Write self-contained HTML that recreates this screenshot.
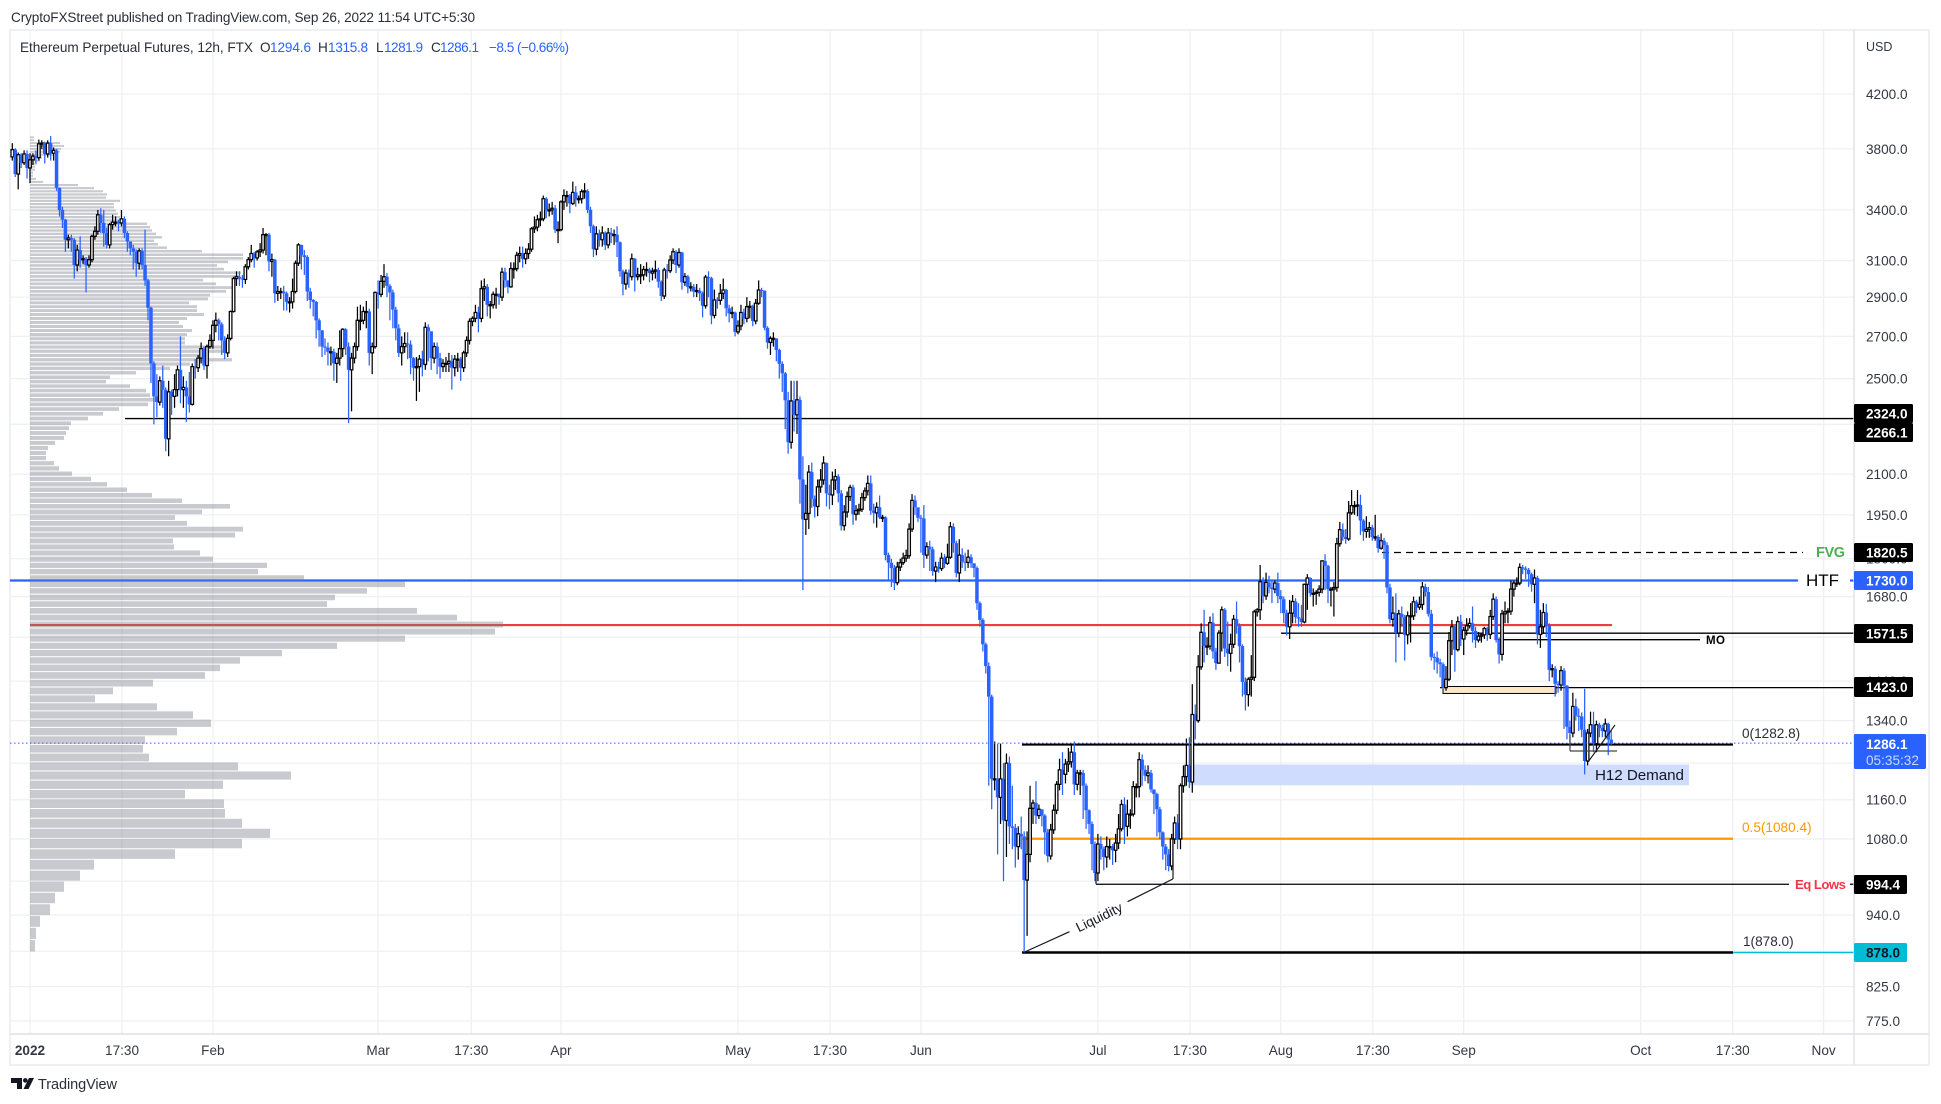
<!DOCTYPE html>
<html lang="en">
<head>
<meta charset="utf-8">
<title>Ethereum Perpetual Futures 12h chart</title>
<style>
html,body{margin:0;padding:0;background:#fff;width:1941px;height:1104px;overflow:hidden}
svg{display:block;font-family:"Liberation Sans",sans-serif;filter:blur(0.3px)}
text{font-size:13.6px}
</style>
</head>
<body>
<svg id="chart" width="1941" height="1104" viewBox="0 0 1941 1104" xmlns="http://www.w3.org/2000/svg">
  <rect x="0" y="0" width="1941" height="1104" fill="#ffffff"/>
  <text x="11" y="22" fill="#2a2e39" textLength="464">CryptoFXStreet published on TradingView.com, Sep 26, 2022 11:54 UTC+5:30</text>
  <rect x="10" y="30" width="1919" height="1035" fill="none" stroke="#eff0f5" stroke-width="2"/>
  <g id="grid"></g>
  <g id="levels"></g>
  <g id="profile"></g>
  <g id="candles"></g>
  <g id="notes"></g>
  <line x1="1854" y1="30" x2="1854" y2="1065" stroke="#e0e1e6" stroke-width="1.4"/>
  <line x1="10" y1="1034" x2="1929" y2="1034" stroke="#e0e1e6" stroke-width="1.4"/>
  <g id="yaxis"></g>
  <g id="xaxis"></g>
  <g id="tags"></g>
  <g>
    <text x="20" y="52" fill="#2a2e39" textLength="233">Ethereum Perpetual Futures, 12h, FTX</text>
    <text x="260" y="52" fill="#2a2e39">O</text>
    <text x="270" y="52" fill="#2962ff" textLength="41">1294.6</text>
    <text x="318" y="52" fill="#2a2e39">H</text>
    <text x="328" y="52" fill="#2962ff" textLength="40">1315.8</text>
    <text x="376" y="52" fill="#2a2e39">L</text>
    <text x="384" y="52" fill="#2962ff" textLength="39">1281.9</text>
    <text x="431" y="52" fill="#2a2e39">C</text>
    <text x="440" y="52" fill="#2962ff" textLength="39">1286.1</text>
    <text x="489" y="52" fill="#2962ff" textLength="80">−8.5 (−0.66%)</text>
  </g>
  <g>
    <path d="M11 1078H22V1089H17V1083H11Z" fill="#131722"/>
    <circle cx="25.3" cy="1080.4" r="2.3" fill="#131722"/>
    <path d="M29 1078H34L28.5 1089H23.5Z" fill="#131722"/>
    <text x="38" y="1089" fill="#2a2e39" textLength="79" style="font-size:14.5px">TradingView</text>
  </g>
</svg>
<script>
const firstOpen = 3745;
const closes = [
3795,3630,3760,3705,3765,3670,3725,3750,3740,3835,
3840,3765,3840,3770,3790,3540,3400,3340,3220,3230,
3220,3075,3160,3105,3110,3075,3105,3240,3270,3370,
3320,3260,3190,3310,3325,3325,3320,3345,3260,3210,
3170,3150,3085,3155,3075,2990,2845,2570,2420,2395,
2490,2450,2240,2440,2420,2450,2540,2450,2460,2420,
2385,2555,2550,2595,2640,2560,2650,2680,2755,2780,
2760,2680,2620,2690,2825,3000,3010,3000,2995,3065,
3105,3140,3115,3150,3160,3250,3250,3095,3105,2920,
2930,2930,2920,2875,2875,2930,3085,3190,3130,3120,
2930,2885,2875,2780,2730,2650,2645,2625,2625,2570,
2595,2640,2735,2650,2540,2595,2650,2780,2780,2825,
2825,2620,2650,2925,2915,2985,3010,2960,2925,2835,
2740,2620,2650,2665,2660,2595,2550,2555,2590,2565,
2745,2725,2595,2650,2595,2555,2570,2570,2580,2550,
2590,2590,2550,2620,2680,2775,2790,2820,2790,2945,
2955,2860,2860,2915,2915,2900,3035,2990,2955,3055,
3055,3130,3140,3110,3140,3165,3285,3295,3340,3345,
3470,3400,3400,3410,3280,3280,3450,3490,3490,3440,
3510,3470,3470,3515,3520,3400,3300,3165,3255,3220,
3260,3190,3260,3250,3250,3205,3040,2970,3030,3010,
3110,3010,3020,3020,3050,3050,3030,3040,3047,2983,
2906,3047,3043,3103,3150,3075,3146,2980,3011,2955,
2955,2930,2935,2920,2855,3008,3002,2805,2885,2883,
2920,2938,2842,2815,2820,2722,2752,2820,2790,2850,
2852,2777,2868,2938,2935,2742,2670,2690,2690,2634,
2568,2524,2403,2226,2400,2340,2405,2080,1934,1955,
2108,2008,1980,2052,2078,2143,2028,2022,2078,2091,
2028,1912,1960,2016,2050,1952,1965,1970,2012,2037,
2065,1965,1957,1977,1941,1941,1812,1787,1770,1723,
1773,1787,1802,1810,1900,2002,1977,1940,1937,1812,
1840,1831,1760,1773,1768,1802,1785,1805,1908,1852,
1754,1812,1790,1788,1805,1785,1770,1660,1610,1540,
1480,1400,1205,1205,1165,1205,1117,1240,1105,1102,
1065,1090,1085,1002,1050,1142,1153,1127,1140,1127,
1093,1047,1098,1138,1193,1225,1215,1238,1243,1265,
1193,1218,1218,1190,1138,1110,1070,1015,1070,1060,
1045,1065,1065,1058,1072,1100,1150,1105,1130,1130,
1188,1188,1248,1225,1212,1218,1182,1172,1140,1093,
1065,1050,1028,1080,1112,1080,1190,1210,1235,1198,
1355,1340,1478,1574,1535,1535,1602,1520,1488,1572,
1640,1528,1515,1540,1612,1592,1535,1438,1405,1445,
1450,1634,1640,1726,1682,1724,1708,1703,1722,1682,
1672,1630,1590,1630,1665,1618,1614,1604,1718,1738,
1690,1690,1693,1703,1793,1777,1703,1703,1708,1850,
1898,1873,1866,1957,1983,1983,1985,1930,1892,1899,
1905,1873,1873,1835,1860,1845,1708,1612,1630,1572,
1628,1618,1567,1622,1622,1664,1648,1656,1710,1694,
1628,1505,1503,1490,1485,1423,1445,1550,1590,1525,
1605,1555,1580,1593,1600,1578,1552,1563,1567,1585,
1568,1620,1672,1552,1512,1628,1634,1636,1703,1722,
1722,1772,1768,1764,1750,1718,1738,1568,1590,1632,
1595,1470,1473,1433,1430,1468,1428,1325,1310,1375,
1352,1350,1318,1245,1310,1330,1285,1330,1322,1315,
1332,1294.6,1286.1];
const highs = [
3840,3805,3775,3770,3790,3790,3770,3770,3790,3865,
3860,3850,3860,3890,3810,3800,3540,3420,3345,3250,
3250,3230,3190,3240,3130,3120,3130,3250,3300,3400,
3410,3400,3290,3320,3370,3360,3340,3400,3360,3270,
3210,3190,3165,3170,3170,3280,3000,2850,2580,2520,
2510,2560,2460,2490,2450,2520,2560,2700,2510,2490,
2530,2570,2590,2610,2670,2650,2660,2710,2780,2820,
2790,2770,2700,2710,2830,3010,3040,3040,3020,3080,
3120,3190,3150,3160,3200,3290,3260,3260,3140,3110,
2960,2950,2960,2930,2900,3000,3100,3200,3190,3160,
3130,2950,2890,2880,2790,2730,2690,2670,2650,2640,
2620,2730,2740,2740,2670,2620,2670,2850,2860,2850,
2880,2840,2670,2930,2990,3020,3080,3030,2970,2940,
2850,2760,2700,2720,2720,2680,2600,2600,2610,2630,
2770,2760,2720,2670,2670,2620,2590,2600,2620,2610,
2610,2620,2600,2630,2700,2790,2800,2860,2850,2990,
3000,2970,2880,2930,2950,2920,3060,3060,2990,3090,
3090,3150,3180,3180,3170,3200,3295,3360,3370,3390,
3490,3480,3440,3450,3430,3330,3460,3530,3520,3500,
3580,3550,3490,3530,3570,3530,3420,3310,3300,3280,
3300,3270,3290,3290,3280,3300,3210,3050,3050,3050,
3140,3115,3060,3080,3070,3090,3060,3060,3100,3060,
2990,3060,3080,3130,3170,3160,3170,3150,3030,3020,
2980,2970,2970,2950,2930,3020,3040,3010,2940,2900,
2970,3000,2945,2860,2850,2825,2780,2860,2840,2900,
2880,2860,2890,2990,2950,2935,2750,2700,2720,2690,
2640,2580,2530,2440,2490,2490,2490,2420,2170,2060,
2135,2145,2020,2080,2120,2170,2145,2060,2110,2120,
2100,2040,1985,2035,2060,2060,1985,1990,2030,2050,
2095,2095,1990,1995,2020,1950,1945,1820,1800,1780,
1790,1800,1820,1830,1920,2025,2020,1970,1950,1985,
1855,1860,1840,1790,1790,1820,1815,1850,1925,1920,
1860,1865,1835,1820,1830,1815,1785,1775,1665,1615,
1545,1490,1405,1290,1285,1285,1240,1262,1255,1190,
1110,1105,1125,1095,1095,1190,1160,1200,1150,1140,
1130,1100,1110,1150,1200,1250,1265,1250,1275,1285,
1290,1225,1225,1225,1195,1140,1115,1075,1090,1085,
1065,1085,1080,1070,1090,1130,1160,1165,1160,1140,
1200,1195,1265,1260,1235,1235,1225,1180,1175,1145,
1095,1070,1060,1090,1125,1130,1195,1235,1297,1300,
1432,1380,1510,1600,1640,1560,1620,1630,1530,1580,
1650,1645,1605,1570,1625,1665,1600,1540,1450,1450,
1510,1640,1645,1780,1740,1755,1745,1730,1730,1755,
1700,1680,1640,1670,1685,1675,1660,1655,1720,1750,
1740,1705,1700,1715,1795,1815,1780,1710,1725,1870,
1925,1920,1900,2000,2040,2000,2040,2023,1935,1945,
1925,1915,1950,1880,1885,1870,1855,1720,1680,1690,
1640,1650,1625,1635,1660,1680,1670,1680,1725,1720,
1710,1640,1515,1520,1500,1490,1480,1575,1610,1595,
1620,1625,1590,1615,1615,1650,1590,1575,1570,1590,
1590,1640,1690,1680,1560,1640,1665,1645,1730,1730,
1740,1785,1780,1775,1770,1755,1765,1745,1640,1660,
1658,1600,1485,1480,1440,1480,1475,1430,1340,1410,
1395,1370,1360,1420,1320,1362,1362,1340,1335,1330,
1345,1335,1315.8];
const lows = [
3720,3610,3530,3670,3690,3600,3570,3690,3700,3720,
3800,3700,3740,3720,3720,3520,3360,3290,3150,3170,
3150,3000,3040,3060,3080,2925,3060,3090,3220,3250,
3260,3180,3170,3170,3280,3300,3270,3300,3230,3150,
3130,3050,3010,3050,3050,2960,2780,2480,2300,2330,
2380,2370,2190,2170,2340,2370,2420,2390,2370,2310,
2350,2380,2500,2530,2570,2540,2500,2640,2640,2720,
2680,2610,2590,2600,2680,2820,2960,2960,2950,2970,
3050,3090,3060,3100,3120,3140,3130,3040,3010,2870,
2880,2890,2830,2830,2820,2840,2920,3070,3050,3020,
2880,2840,2800,2690,2650,2600,2610,2560,2560,2490,
2480,2560,2600,2610,2305,2355,2570,2630,2730,2760,
2740,2560,2520,2640,2840,2900,2950,2900,2780,2740,
2680,2600,2560,2620,2590,2520,2490,2400,2440,2510,
2540,2580,2540,2570,2520,2500,2530,2530,2530,2450,
2510,2530,2490,2530,2600,2660,2750,2770,2720,2770,
2880,2800,2790,2840,2840,2860,2880,2950,2920,2950,
3000,3040,3090,3060,3080,3110,3150,3260,3270,3300,
3330,3350,3360,3370,3260,3200,3270,3400,3420,3380,
3430,3420,3440,3440,3470,3380,3260,3120,3130,3180,
3180,3160,3170,3200,3190,3120,3010,2910,2940,2950,
2990,2930,2990,2970,2990,3010,2980,2990,3000,2950,
2880,2890,3000,3030,3080,3030,3060,2940,2960,2920,
2930,2900,2900,2880,2795,2840,2900,2760,2790,2840,
2860,2890,2800,2770,2790,2700,2710,2730,2760,2770,
2790,2750,2760,2860,2900,2730,2640,2610,2650,2580,
2500,2440,2280,2180,2200,2270,2260,1990,1700,1880,
1900,1975,1940,1945,2030,2060,1980,1970,1985,2040,
1995,1895,1895,1940,2000,1915,1930,1950,1960,2000,
2020,1950,1920,1905,1935,1925,1795,1730,1710,1700,
1715,1760,1780,1790,1800,1890,1950,1925,1820,1770,
1800,1760,1745,1725,1755,1760,1770,1780,1800,1820,
1740,1725,1770,1760,1770,1770,1740,1640,1590,1520,
1460,1190,1140,1180,1050,1110,1000,1045,1070,1060,
1025,1040,1060,878,905,1035,1110,1110,1120,1105,
1050,1035,1040,1090,1130,1180,1170,1195,1220,1230,
1170,1180,1170,1120,1100,1090,1020,1000,1000,1040,
1020,1025,1040,1030,1035,1060,1095,1070,1085,1100,
1125,1165,1165,1190,1200,1195,1175,1130,1085,1080,
1040,1020,1018,1020,1070,1060,1060,1175,1190,1185,
1175,1295,1335,1470,1490,1510,1525,1500,1470,1525,
1520,1505,1480,1465,1530,1570,1490,1400,1365,1375,
1400,1440,1620,1610,1660,1670,1690,1660,1690,1660,
1630,1600,1565,1555,1600,1600,1590,1590,1600,1640,
1680,1650,1655,1680,1690,1700,1660,1650,1620,1695,
1840,1860,1850,1860,1950,1950,1945,1880,1860,1870,
1870,1860,1860,1820,1830,1800,1690,1600,1590,1490,
1560,1590,1495,1540,1545,1610,1630,1640,1640,1680,
1620,1495,1470,1460,1450,1420,1415,1440,1510,1465,
1520,1535,1510,1565,1585,1545,1530,1545,1545,1555,
1550,1555,1610,1545,1487,1495,1600,1600,1625,1680,
1710,1715,1750,1735,1710,1695,1660,1540,1530,1570,
1560,1440,1450,1400,1410,1415,1320,1295,1290,1300,
1340,1315,1300,1215,1235,1300,1265,1265,1300,1300,
1300,1258,1281.9];

const profileVolumes = [5,6,10,20,25,34,50,64,145,212,240,212,195,194,155,193,261,208,119,113,115,147,181,163,127,65,83,123,175,190,210,252,307,375,465,473,427,387,297,305,337,375,274,228,237,183,170,144,143,205,213,157,145,172,200,152,122,97,77,61,42,29,24,16,16,18,25,34,36,39,41,58,73,89,118,130,120,116,100,76,80,106,140,160,202,178,194,192,155,155,157,162,153,149,157,174,167,167,159,178,180,196,205,186,173,209,211,194,187,198,213,213,172,137,128,124,132,126,122,120,117,95,90,88,86,84,84,90,76,77,73,64,48,13,6,3,3,5,5,7,10,12,24,30,31,34,30,4,4];
const profileBottomPrice = 878;
const profileRowPrice = 20.2;

const priceTicks = [4200,3800,3400,3100,2900,2700,2500,2300,2100,1950,1800,1680,1560,1440,1340,1240,1160,1080,1000,940,880,825,775];
const timeLabels = ["2022","17:30","Feb","Mar","17:30","Apr","May","17:30","Jun","Jul","17:30","Aug","17:30","Sep","Oct","17:30","Nov"];
const timeDays = [0,15.6,31,59,74.8,90,120,135.6,151,181,196.6,212,227.6,243,273,288.6,304];

const levelHTF = 1730, levelPOC = 1595, levelMO = 1571.5, levelMO2 = 1553, levelFVG = 1820.5;
const level2324 = 2324, level2266 = 2266.1, level1423 = 1423, levelEqLows = 994.4;
const fibValues = [1282.8, 1080.4, 878.0];
const demandTop = 1237, demandBottom = 1191, rectTop = 1426, rectBottom = 1408;

const NS = 'http://www.w3.org/2000/svg';
function yOf(p){ return 94 + 548.5 * Math.log(4200 / p); }
function xDay(d){ return 30 + 5.9 * d; }
function xIdx(i){ return xDay(i / 2 - 3); }
function vpX(v){ return 30 + v; }
function make(tag, parent, geom, text){
  const el = document.createElementNS(NS, tag);
  for (const k in geom) el.setAttribute(k, geom[k]);
  if (text !== undefined) el.textContent = text;
  parent.appendChild(el);
  return el;
}
function hLine(parent, x1, x2, price, color, width, dash){
  const y = yOf(price);
  const geom = {x1:x1, y1:y, x2:x2, y2:y, stroke:color};
  geom['stroke-width'] = width;
  if (dash) geom['stroke-dasharray'] = dash;
  return make('line', parent, geom);
}
function segment(parent, x1, y1, x2, y2, color, width){
  const geom = {x1:x1, y1:y1, x2:x2, y2:y2, stroke:color};
  geom['stroke-width'] = width;
  return make('line', parent, geom);
}

/* gridlines */
const grid = document.getElementById('grid');
priceTicks.forEach(function(p){
  const el = hLine(grid, 10, 1854, p, '#eff0f3', 1.3);
  
  
});
timeDays.forEach(function(d){
  const el = segment(grid, xDay(d), 30, xDay(d), 1034, '#eff0f3', 1.3);
  
  
});

/* levels beneath the profile and candles */
const lv = document.getElementById('levels');
let n;
n = hLine(lv, 10, 1798, levelHTF, '#2962ff', 2.2);


n = hLine(lv, 1850, 1854, levelHTF, '#2962ff', 2.2);


n = hLine(lv, 30, 1612, levelPOC, '#f23c3c', 2.2);


n = hLine(lv, 125, 1854, level2324, '#000000', 1.4);


n = hLine(lv, 1281, 1854, levelMO, '#000000', 1.3);


n = hLine(lv, 1498, 1700, levelMO2, '#000000', 1.3);


n = hLine(lv, 1382, 1803, levelFVG, '#000000', 1.2, '7 5');


n = hLine(lv, 1440, 1854, level1423, '#000000', 1.3);


n = hLine(lv, 1096, 1789, levelEqLows, '#000000', 1.3);


n = hLine(lv, 1850, 1854, levelEqLows, '#000000', 1.3);


n = make('rect', lv, {x:1190, y:yOf(demandTop), width:499, height:yOf(demandBottom)-yOf(demandTop), fill:'#d0dcfd'});


n = make('rect', lv, {x:1443, y:yOf(rectTop), width:113, height:yOf(rectBottom)-yOf(rectTop), fill:'#fbe6c8', stroke:'#000000'});


n = hLine(lv, 1022, 1733, fibValues[0], '#000000', 2.2);


n = hLine(lv, 1022, 1733, fibValues[1], '#ff9800', 2.2);


n = hLine(lv, 1022, 1733, fibValues[2], '#000000', 2.6);


n = hLine(lv, 1733, 1854, fibValues[2], '#00bcd4', 1.6);



/* volume profile */
const prof = document.getElementById('profile');
profileVolumes.forEach(function(v, r){
  const yB = yOf(profileBottomPrice + r * profileRowPrice);
  const yT = yOf(profileBottomPrice + (r + 1) * profileRowPrice);
  const bar = make('rect', prof, {x:vpX(0), y:yT, width:vpX(v)-vpX(0), height:Math.max(1, yB-yT-1), fill:'rgba(120,123,134,0.4)'});
  
  
});

/* candles */
const cg = document.getElementById('candles');
closes.forEach(function(c, i){
  const o = i === 0 ? firstOpen : closes[i - 1];
  const up = c >= o;
  const x = xIdx(i);
  const col = up ? '#000000' : '#2962ff';
  const wick = segment(cg, x, yOf(highs[i]), x, yOf(lows[i]), col, 1.25);
  
  
  const top = yOf(Math.max(o, c));
  const h = Math.max(1, yOf(Math.min(o, c)) - top);
  const body = up
    ? make('rect', cg, {x:x-1.3, y:top, width:2.6, height:h, fill:'#ffffff', stroke:'#000000', 'stroke-width':1.25})
    : make('rect', cg, {x:x-1.75, y:top, width:3.5, height:h, fill:'#2962ff'});
  
  
});

/* annotations above the candles */
const nt = document.getElementById('notes');
const lastPrice = closes[closes.length - 1];
n = hLine(nt, 10, 1854, lastPrice, '#2962ff', 1.1, '1.5 2.5');


n = segment(nt, 1024.7, 952, 1069.5, 931.7, '#131722', 1.2);


n = segment(nt, 1127.6, 901.7, 1172.8, 879, '#131722', 1.2);


n = segment(nt, 1173, 879, 1173, 861, '#131722', 1.2);


n = segment(nt, 1096, 884, 1096, 872, '#131722', 1.2);


n = segment(nt, 1570, 751, 1617, 751, '#434651', 1.2);


n = segment(nt, 1570, 751, 1570, 735, '#434651', 1.2);


n = segment(nt, 1588, 762, 1615, 725, '#131722', 1.1);



n = make('text', nt, {x:1099, y:922, fill:'#131722', 'text-anchor':'middle', transform:'rotate(-26 1099 917)'}, 'Liquidity');


n = make('text', nt, {x:1595, y:780, fill:'#131722', style:'font-size:15.2px', textLength:89}, 'H12 Demand');


n = make('text', nt, {x:1742, y:738, fill:'#2a2e39'}, '0(' + fibValues[0].toFixed(1) + ')');


n = make('text', nt, {x:1742, y:832, fill:'#ff9800'}, '0.5(' + fibValues[1].toFixed(1) + ')');


n = make('text', nt, {x:1743, y:946, fill:'#2a2e39'}, '1(' + fibValues[2].toFixed(1) + ')');


n = make('text', nt, {x:1795, y:889, fill:'#f23645', style:'font-size:13.2px;font-weight:bold', textLength:51}, 'Eq Lows');


n = make('text', nt, {x:1816, y:557, fill:'#4caf50', style:'font-size:14.5px;font-weight:bold', textLength:29}, 'FVG');


n = make('text', nt, {x:1806, y:586, fill:'#000000', style:'font-size:17px', textLength:33}, 'HTF');


n = make('text', nt, {x:1706, y:644, fill:'#000000', style:'font-size:11.5px;font-weight:bold', textLength:19}, 'MO');



/* axes */
const ya = document.getElementById('yaxis');
n = make('text', ya, {x:1866, y:51, fill:'#333844', style:'font-size:12.5px'}, 'USD');


priceTicks.forEach(function(p){
  const t = make('text', ya, {x:1866, y:yOf(p) + 5, fill:'#333844'}, p.toFixed(1));
  
  
});
const xa = document.getElementById('xaxis');
timeLabels.forEach(function(lab, i){
  const t = make('text', xa, {x:xDay(timeDays[i]), y:1055, fill:'#333844', 'text-anchor':'middle', 'font-weight': i === 0 ? 'bold' : 'normal'}, lab);
  
  
});

/* price tags */
const tags = document.getElementById('tags');
function tag(label, top, bottom, right, bg, fg){
  const r = make('rect', tags, {x:1854, y:top, width:right-1854, height:bottom-top, rx:1.5, fill:bg});
  
  
  const t = make('text', tags, {x:1866, y:(top+bottom)/2 + 5, fill:fg, 'font-weight':'bold'}, label);
  
  
}
tag(level2324.toFixed(1), 404, 423, 1913, '#000000', '#ffffff');
tag(level2266.toFixed(1), 423, 442, 1913, '#000000', '#ffffff');
tag(levelFVG.toFixed(1), 543, 562, 1913, '#000000', '#ffffff');
tag(levelHTF.toFixed(1), 571, 590, 1913, '#2962ff', '#ffffff');
tag(levelMO.toFixed(1), 624, 643, 1913, '#000000', '#ffffff');
tag(level1423.toFixed(1), 677, 697, 1913, '#000000', '#ffffff');
tag(levelEqLows.toFixed(1), 875, 894, 1907, '#000000', '#ffffff');
tag(fibValues[2].toFixed(1), 943, 962, 1907, '#00bcd4', '#131722');
n = make('rect', tags, {x:1854, y:734, width:72, height:35, rx:1.5, fill:'#2962ff'});


n = make('text', tags, {x:1866, y:749, fill:'#ffffff', 'font-weight':'bold'}, lastPrice.toFixed(1));


n = make('text', tags, {x:1866, y:765, fill:'#c9d8ff'}, '05:35:32');


</script>
</body>
</html>
